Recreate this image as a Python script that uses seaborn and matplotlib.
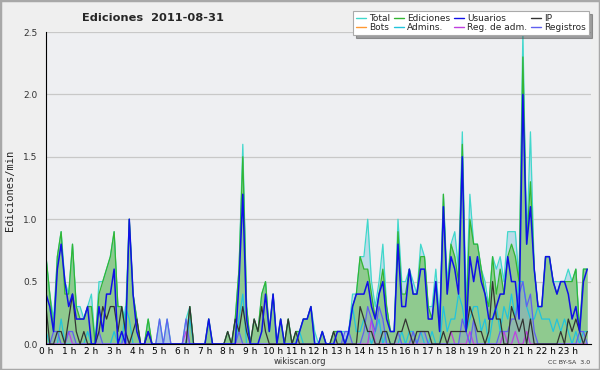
import numpy as np
import seaborn as sns
import matplotlib
matplotlib.use("Agg")
import matplotlib.pyplot as plt
from matplotlib.lines import Line2D
from matplotlib.patches import Rectangle

# Ediciones por minuto, intervalos de 10 min (6 por hora)
total = [0.7, 0.4, 0.2, 0.7, 0.9, 0.5,  0.4, 0.8, 0.3, 0.3, 0.2, 0.3,
         0.4, 0.0, 0.5, 0.5, 0.6, 0.7,  0.9, 0.3, 0.3, 0.2, 1.0, 0.4,
         0.2, 0.0, 0.0, 0.2, 0.0, 0.0,  0.2, 0.0, 0.2, 0.0, 0.0, 0.0,
         0.0, 0.2, 0.3, 0.0, 0.0, 0.0,  0.0, 0.2, 0.0, 0.0, 0.0, 0.0,
         0.1, 0.0, 0.2, 0.6, 1.6, 0.3,  0.0, 0.2, 0.1, 0.4, 0.5, 0.1,
         0.4, 0.0, 0.2, 0.0, 0.2, 0.0,  0.1, 0.1, 0.2, 0.2, 0.3, 0.1,
         0.0, 0.1, 0.0, 0.0, 0.1, 0.1,  0.1, 0.1, 0.1, 0.4, 0.4, 0.7,
         0.7, 1.0, 0.5, 0.3, 0.5, 0.8,  0.3, 0.1, 0.1, 1.0, 0.5, 0.5,
         0.6, 0.5, 0.4, 0.8, 0.7, 0.3,  0.3, 0.6, 0.2, 1.2, 0.5, 0.8,
         0.9, 0.6, 1.7, 0.3, 1.2, 0.8,  0.8, 0.6, 0.5, 0.3, 0.7, 0.6,
         0.7, 0.5, 0.9, 0.9, 0.9, 0.5,  2.5, 0.8, 1.7, 0.6, 0.3, 0.3,
         0.7, 0.7, 0.5, 0.5, 0.5, 0.5,  0.6, 0.5, 0.6, 0.1, 0.6, 0.6]

ediciones = [0.7, 0.4, 0.1, 0.7, 0.9, 0.4,  0.4, 0.8, 0.3, 0.2, 0.2, 0.3,
             0.3, 0.0, 0.4, 0.5, 0.6, 0.7,  0.9, 0.3, 0.3, 0.1, 1.0, 0.4,
             0.2, 0.0, 0.0, 0.2, 0.0, 0.0,  0.0, 0.0, 0.0, 0.0, 0.0, 0.0,
             0.0, 0.0, 0.3, 0.0, 0.0, 0.0,  0.0, 0.2, 0.0, 0.0, 0.0, 0.0,
             0.1, 0.0, 0.2, 0.6, 1.5, 0.3,  0.0, 0.2, 0.1, 0.4, 0.5, 0.1,
             0.4, 0.0, 0.2, 0.0, 0.2, 0.0,  0.1, 0.1, 0.2, 0.2, 0.3, 0.0,
             0.0, 0.1, 0.0, 0.0, 0.1, 0.1,  0.1, 0.0, 0.1, 0.3, 0.4, 0.7,
             0.6, 0.6, 0.4, 0.2, 0.4, 0.6,  0.3, 0.1, 0.1, 0.9, 0.4, 0.4,
             0.6, 0.4, 0.4, 0.7, 0.7, 0.3,  0.2, 0.5, 0.1, 1.2, 0.4, 0.8,
             0.7, 0.5, 1.6, 0.2, 1.0, 0.8,  0.8, 0.6, 0.4, 0.3, 0.7, 0.4,
             0.6, 0.4, 0.7, 0.8, 0.7, 0.5,  2.3, 0.8, 1.3, 0.6, 0.3, 0.3,
             0.7, 0.7, 0.5, 0.4, 0.5, 0.5,  0.5, 0.5, 0.6, 0.1, 0.6, 0.6]

usuarios = [0.4, 0.3, 0.1, 0.6, 0.8, 0.5,  0.3, 0.4, 0.2, 0.2, 0.2, 0.3,
            0.0, 0.0, 0.3, 0.1, 0.4, 0.4,  0.6, 0.0, 0.1, 0.0, 1.0, 0.4,
            0.1, 0.0, 0.0, 0.1, 0.0, 0.0,  0.0, 0.0, 0.0, 0.0, 0.0, 0.0,
            0.0, 0.0, 0.0, 0.0, 0.0, 0.0,  0.0, 0.2, 0.0, 0.0, 0.0, 0.0,
            0.0, 0.0, 0.0, 0.5, 1.2, 0.2,  0.0, 0.0, 0.0, 0.1, 0.4, 0.1,
            0.4, 0.0, 0.2, 0.0, 0.0, 0.0,  0.0, 0.1, 0.2, 0.2, 0.3, 0.0,
            0.0, 0.1, 0.0, 0.0, 0.0, 0.1,  0.1, 0.0, 0.1, 0.3, 0.4, 0.4,
            0.4, 0.5, 0.3, 0.2, 0.4, 0.5,  0.2, 0.1, 0.1, 0.8, 0.3, 0.3,
            0.6, 0.4, 0.4, 0.6, 0.6, 0.2,  0.2, 0.5, 0.1, 1.1, 0.4, 0.7,
            0.6, 0.4, 1.5, 0.1, 0.7, 0.5,  0.7, 0.5, 0.4, 0.2, 0.2, 0.3,
            0.4, 0.4, 0.7, 0.5, 0.5, 0.2,  2.0, 0.8, 1.1, 0.6, 0.3, 0.3,
            0.7, 0.7, 0.5, 0.4, 0.5, 0.5,  0.4, 0.2, 0.3, 0.1, 0.5, 0.6]

ip = [0.3, 0.0, 0.0, 0.1, 0.1, 0.0,  0.2, 0.4, 0.1, 0.0, 0.1, 0.0,
      0.0, 0.0, 0.1, 0.3, 0.2, 0.3,  0.3, 0.1, 0.3, 0.1, 0.0, 0.1,
      0.2, 0.0, 0.0, 0.1, 0.0, 0.0,  0.0, 0.0, 0.0, 0.0, 0.0, 0.0,
      0.0, 0.0, 0.3, 0.0, 0.0, 0.0,  0.0, 0.0, 0.0, 0.0, 0.0, 0.0,
      0.1, 0.0, 0.2, 0.1, 0.3, 0.1,  0.0, 0.2, 0.1, 0.3, 0.1, 0.0,
      0.0, 0.0, 0.0, 0.0, 0.2, 0.0,  0.1, 0.0, 0.0, 0.0, 0.0, 0.0,
      0.0, 0.0, 0.0, 0.0, 0.1, 0.0,  0.0, 0.0, 0.0, 0.0, 0.0, 0.3,
      0.2, 0.1, 0.1, 0.0, 0.0, 0.1,  0.1, 0.0, 0.0, 0.1, 0.1, 0.2,
      0.1, 0.0, 0.1, 0.1, 0.1, 0.1,  0.0, 0.0, 0.0, 0.1, 0.0, 0.1,
      0.1, 0.1, 0.1, 0.1, 0.3, 0.2,  0.1, 0.1, 0.0, 0.1, 0.5, 0.2,
      0.2, 0.0, 0.0, 0.3, 0.2, 0.1,  0.2, 0.0, 0.2, 0.0, 0.0, 0.0,
      0.0, 0.0, 0.0, 0.0, 0.1, 0.0,  0.2, 0.1, 0.2, 0.1, 0.0, 0.1]

bots = [0.0] * 144

admins = [0.1, 0.0, 0.0, 0.0, 0.2, 0.0,  0.0, 0.0, 0.0, 0.0, 0.0, 0.1,
          0.0, 0.0, 0.0, 0.0, 0.0, 0.0,  0.1, 0.0, 0.0, 0.3, 0.2, 0.0,
          0.0, 0.0, 0.0, 0.0, 0.0, 0.0,  0.0, 0.0, 0.0, 0.0, 0.0, 0.0,
          0.0, 0.0, 0.2, 0.0, 0.0, 0.0,  0.0, 0.0, 0.0, 0.0, 0.0, 0.0,
          0.0, 0.0, 0.0, 0.2, 0.4, 0.0,  0.0, 0.0, 0.0, 0.0, 0.0, 0.0,
          0.0, 0.0, 0.0, 0.0, 0.0, 0.0,  0.0, 0.1, 0.0, 0.0, 0.0, 0.0,
          0.0, 0.0, 0.0, 0.0, 0.0, 0.0,  0.0, 0.0, 0.1, 0.3, 0.1, 0.1,
          0.2, 0.1, 0.0, 0.1, 0.2, 0.0,  0.1, 0.0, 0.0, 0.0, 0.1, 0.0,
          0.1, 0.1, 0.0, 0.1, 0.0, 0.0,  0.1, 0.0, 0.0, 0.3, 0.1, 0.2,
          0.2, 0.4, 0.3, 0.1, 0.2, 0.3,  0.3, 0.1, 0.2, 0.0, 0.2, 0.3,
          0.1, 0.3, 0.2, 0.4, 0.2, 0.5,  0.5, 0.3, 0.2, 0.2, 0.3, 0.2,
          0.2, 0.2, 0.1, 0.2, 0.1, 0.2,  0.1, 0.0, 0.1, 0.0, 0.1, 0.1]

reg_adm = [0.0] * 144
for i in (6, 37, 86, 107, 112, 121, 124, 127):
    reg_adm[i] = 0.1
reg_adm[86] = 0.2

registros = [0.0, 0.0, 0.1, 0.1, 0.0, 0.0,  0.1, 0.1, 0.0, 0.0, 0.0, 0.0,
             0.0, 0.0, 0.1, 0.0, 0.0, 0.0,  0.0, 0.0, 0.0, 0.1, 0.0, 0.0,
             0.0, 0.0, 0.0, 0.0, 0.0, 0.0,  0.2, 0.0, 0.2, 0.0, 0.0, 0.0,
             0.0, 0.2, 0.0, 0.0, 0.0, 0.0,  0.0, 0.0, 0.0, 0.0, 0.0, 0.0,
             0.0, 0.0, 0.0, 0.1, 0.0, 0.0,  0.0, 0.0, 0.0, 0.0, 0.0, 0.0,
             0.0, 0.0, 0.0, 0.0, 0.0, 0.0,  0.0, 0.0, 0.0, 0.0, 0.0, 0.0,
             0.0, 0.0, 0.0, 0.0, 0.0, 0.0,  0.0, 0.1, 0.1, 0.0, 0.0, 0.0,
             0.1, 0.3, 0.2, 0.1, 0.3, 0.2,  0.0, 0.0, 0.0, 0.1, 0.0, 0.0,
             0.0, 0.1, 0.0, 0.1, 0.1, 0.0,  0.0, 0.0, 0.0, 0.0, 0.0, 0.0,
             0.0, 0.0, 0.2, 0.1, 0.0, 0.2,  0.0, 0.0, 0.0, 0.0, 0.0, 0.0,
             0.1, 0.1, 0.1, 0.2, 0.2, 0.4,  0.5, 0.3, 0.4, 0.1, 0.0, 0.0,
             0.0, 0.0, 0.0, 0.0, 0.0, 0.0,  0.0, 0.0, 0.0, 0.1, 0.1, 0.0]

horas = np.arange(144) / 6.0
etiquetas_x = [f"{h} h" for h in range(24)]

sns.set_style("white")
plt.rcParams['font.family'] = ['DejaVu Sans']

fig = plt.figure(figsize=(6, 3.7), dpi=100, facecolor='#efefef')
ax = fig.add_axes([46/600, 1-344/370, 545/600, 312/370])
ax.set_facecolor('#eeeff2')

# areas
ax.fill_between(horas, total, color='#bcdbe8', lw=0, zorder=1)
ax.fill_between(horas, ediciones, color='#8fca8f', lw=0, zorder=2)
ax.fill_between(horas, registros, color='#8c9ce0', alpha=0.35, lw=0, zorder=2)

series = [
    ('Total', total, '#40d8cc', 0.9, 3),
    ('Bots', bots, '#ff9933', 0.9, 2.5),
    ('Ediciones', ediciones, '#33b533', 0.9, 4),
    ('Admins.', admins, '#22c4dc', 0.9, 5),
    ('Usuarios', usuarios, '#1010e8', 1.1, 9),
    ('Reg. de adm.', reg_adm, '#c040e0', 0.9, 6),
    ('IP', ip, '#333333', 0.9, 8),
    ('Registros', registros, '#6060f0', 0.9, 7),
]
for nombre, vals, col, lw, z in series:
    sns.lineplot(x=horas, y=vals, color=col, lw=lw, ax=ax, zorder=z, legend=False)

ax.set_xlim(0, 24)
ax.set_ylim(0, 2.5)
ax.set_xticks(range(24))
ax.set_xticklabels(etiquetas_x, fontsize=6.5)
ax.set_xticks(horas, minor=True)
ax.set_yticks([0, 0.5, 1.0, 1.5, 2.0, 2.5])
ax.set_yticklabels(["0.0", "0.5", "1.0", "1.5", "2.0", "2.5"], fontsize=6.5, color='#333333')
ax.set_yticks(np.arange(0, 2.51, 0.1), minor=True)
ax.tick_params(axis='x', which='both', direction='out', length=2.2, width=0.8, pad=0.3, colors='black')
ax.tick_params(axis='y', which='major', direction='out', length=5, width=0.8, pad=1)
ax.tick_params(axis='y', which='minor', direction='out', length=3, width=0.8)
for v in [0.5, 1.0, 1.5, 2.0, 2.5]:
    ax.axhline(v, color='#c8c8c8', lw=0.9, zorder=0.5)
for s in ['top', 'right']:
    ax.spines[s].set_visible(False)
ax.spines['left'].set_color('black')
ax.spines['bottom'].set_color('black')
ax.spines['left'].set_zorder(10)
ax.spines['bottom'].set_zorder(10)
ax.set_xlabel('')
ax.set_ylabel('')

fig.text(153/600, 1-18/370, 'Ediciones  2011-08-31', ha='center', va='center',
         fontsize=8.2, fontweight='bold')
fig.text(10/600, 1-190/370, 'Ediciones/min', rotation=90, ha='center', va='center',
         fontsize=7.5, family='DejaVu Sans Mono')
fig.text(300/600, 1-362/370, 'wikiscan.org', ha='center', va='center', fontsize=6, color='#333333')
fig.text(590/600, 1-362/370, 'CC BY-SA  3.0', ha='right', va='center', fontsize=4.5, color='#333333')

handles = [Line2D([0], [0], color=c, lw=1) for _, _, c, _, _ in series]
labels = [n for n, _, _, _, _ in series]
leg = fig.legend(handles, labels, ncol=4, loc='upper right', bbox_to_anchor=(589/600, 1-11/370),
                 fontsize=6.5, frameon=True, fancybox=False, shadow=True, handlelength=1.1,
                 handletextpad=0.35, columnspacing=0.45, labelspacing=0.05, borderpad=0.3,
                 borderaxespad=0)
leg.get_frame().set_edgecolor('#aaaaaa')
leg.get_frame().set_linewidth(0.8)
leg.set_zorder(20)

fig.patches.append(Rectangle((0, 0), 1, 1, transform=fig.transFigure, fill=False,
                             edgecolor='#a8a8a8', lw=2.5))

fig.savefig('out.png', dpi=100, facecolor=fig.get_facecolor())
